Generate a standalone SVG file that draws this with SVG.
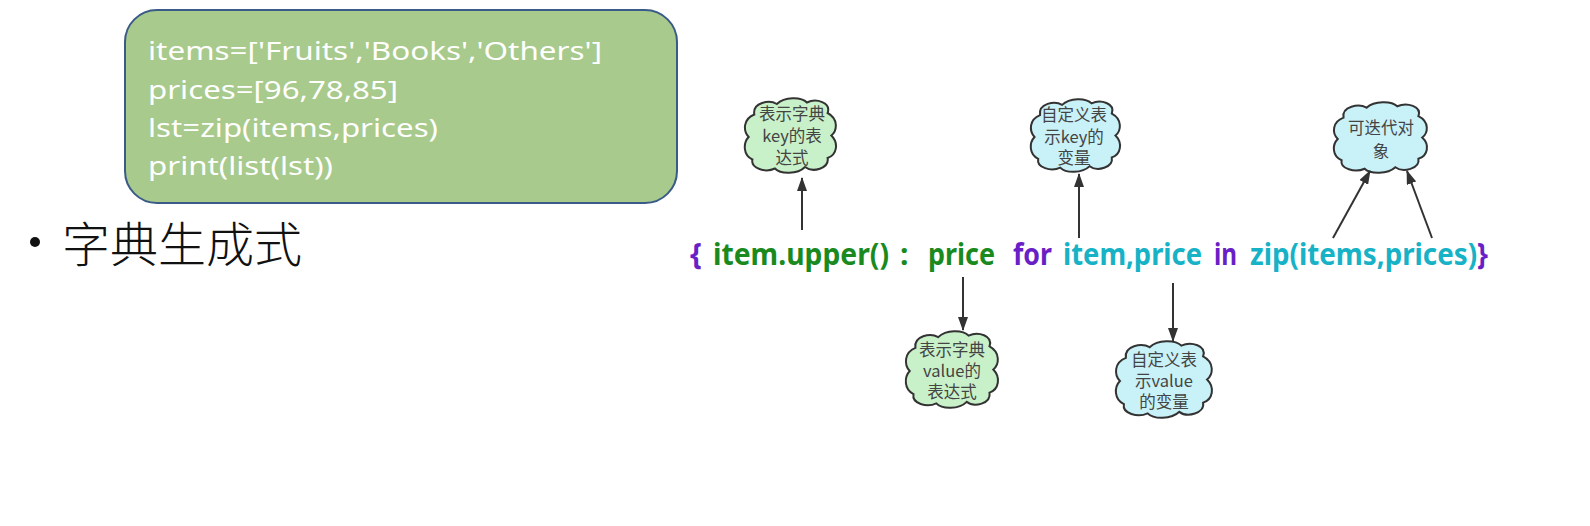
<svg xmlns="http://www.w3.org/2000/svg" xmlns:xlink="http://www.w3.org/1999/xlink" width="1590" height="526" viewBox="0 0 1590 526">
<style>
.code{font-family:"Noto Sans","Noto Sans CJK SC",sans-serif;font-size:25px;fill:#ffffff}
.title{font-family:"Noto Sans CJK SC",sans-serif;font-size:48px;font-weight:300;fill:#111111}
.expr{font-family:"Noto Sans","Noto Sans CJK SC",sans-serif;font-size:30px;font-weight:bold}
.g{fill:#1a8a1e}
.p{fill:#6a1fc6}
.c{fill:#17b2c6}
.cloudg{fill:#c9f1c9;stroke:#333333;stroke-width:2}
.cloudc{fill:#c9f1f8;stroke:#333333;stroke-width:2}
.ct{font-family:"Noto Sans CJK SC",sans-serif;font-size:16.5px;fill:#444444;text-anchor:middle}
.arrow{stroke:#333333;stroke-width:2;fill:none;marker-end:url(#ah)}
</style>
<defs>
<marker id="ah" markerUnits="userSpaceOnUse" markerWidth="14" markerHeight="10" refX="13" refY="5" orient="auto">
<path d="M0,0 L14,5 L0,10 Z" fill="#333333"/>
</marker>
<path id="cloud" vector-effect="non-scaling-stroke" d="M 12 22 C 10 6, 28 2, 36 8 C 44 -2, 62 -2, 68 6 C 78 0, 94 6, 90 20 C 102 28, 100 44, 94 50 C 102 60, 100 76, 90 80 C 92 94, 74 100, 66 92 C 58 102, 40 102, 34 94 C 24 100, 8 94, 10 82 C 0 76, 0 60, 6 52 C 0 44, 0 28, 12 22 Z"/>
</defs>
<rect width="1590" height="526" fill="#ffffff"/>

<g id="code-box">
<rect x="125" y="10" width="552" height="193" rx="32" ry="32" fill="#a8ca8c" stroke="#3a5a88" stroke-width="2"/>
<text class="code" x="148" y="60" textLength="454" lengthAdjust="spacingAndGlyphs">items=['Fruits','Books','Others']</text>
<text class="code" x="148" y="99" textLength="250" lengthAdjust="spacingAndGlyphs">prices=[96,78,85]</text>
<text class="code" x="148" y="137" textLength="290" lengthAdjust="spacingAndGlyphs">lst=zip(items,prices)</text>
<text class="code" x="148" y="175" textLength="185" lengthAdjust="spacingAndGlyphs">print(list(lst))</text>
</g>

<g id="title">
<circle cx="35" cy="242" r="5" fill="#111111"/>
<text class="title" x="62" y="262" textLength="240" lengthAdjust="spacingAndGlyphs">字典生成式</text>
</g>

<g id="expression">
<text class="expr p" x="690" y="265">{</text>
<text class="expr g" x="713" y="265" textLength="176" lengthAdjust="spacingAndGlyphs">item.upper()</text>
<text class="expr g" x="900" y="265">:</text>
<text class="expr g" x="928" y="265" textLength="67" lengthAdjust="spacingAndGlyphs">price</text>
<text class="expr p" x="1013" y="265" textLength="39" lengthAdjust="spacingAndGlyphs">for</text>
<text class="expr c" x="1063" y="265" textLength="139" lengthAdjust="spacingAndGlyphs">item,price</text>
<text class="expr p" x="1214" y="265" textLength="23" lengthAdjust="spacingAndGlyphs">in</text>
<text class="expr" x="1250" y="265" textLength="238" lengthAdjust="spacingAndGlyphs"><tspan class="c">zip(items,prices)</tspan><tspan class="p">}</tspan></text>
</g>

<g id="cloud-key-expr">
<use href="#cloud" class="cloudg" transform="translate(743,98) scale(0.94,0.75)"/>
<text class="ct" x="792" y="120">表示字典</text>
<text class="ct" x="792" y="142">key的表</text>
<text class="ct" x="792" y="164">达式</text>
</g>

<g id="cloud-key-var">
<use href="#cloud" class="cloudc" transform="translate(1029,99) scale(0.92,0.73)"/>
<text class="ct" x="1074" y="121">自定义表</text>
<text class="ct" x="1074" y="143">示key的</text>
<text class="ct" x="1074" y="164">变量</text>
</g>

<g id="cloud-iterable">
<use href="#cloud" class="cloudc" transform="translate(1332,102) scale(0.96,0.71)"/>
<text class="ct" x="1381" y="134">可迭代对</text>
<text class="ct" x="1381" y="158">象</text>
</g>

<g id="cloud-value-expr">
<use href="#cloud" class="cloudg" transform="translate(904,331) scale(0.95,0.77)"/>
<text class="ct" x="952" y="356">表示字典</text>
<text class="ct" x="952" y="377">value的</text>
<text class="ct" x="952" y="398">表达式</text>
</g>

<g id="cloud-value-var">
<use href="#cloud" class="cloudc" transform="translate(1114,341) scale(0.99,0.77)"/>
<text class="ct" x="1164" y="366">自定义表</text>
<text class="ct" x="1164" y="387">示value</text>
<text class="ct" x="1164" y="408">的变量</text>
</g>

<g id="connectors">
<line class="arrow" x1="802" y1="230" x2="802" y2="178"/>
<line class="arrow" x1="1079" y1="238" x2="1079" y2="174"/>
<line class="arrow" x1="1333" y1="238" x2="1370" y2="171"/>
<line class="arrow" x1="1432" y1="238" x2="1407" y2="171"/>
<line class="arrow" x1="963" y1="277" x2="963" y2="330"/>
<line class="arrow" x1="1173" y1="283" x2="1173" y2="341"/>
</g>
</svg>
